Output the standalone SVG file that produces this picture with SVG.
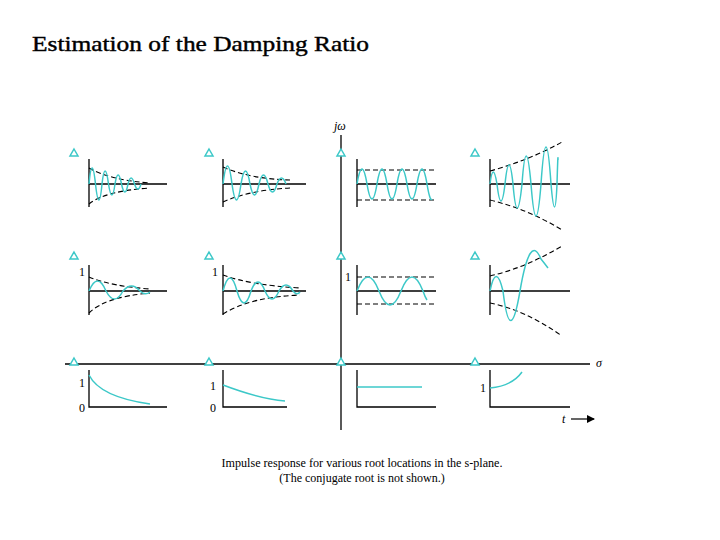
<svg xmlns="http://www.w3.org/2000/svg" width="720" height="540" viewBox="0 0 720 540">
<style>
.ax{stroke:#000;stroke-width:1.3;fill:none}
.sg{stroke:#3cc8c8;stroke-width:1.5;fill:none}
.dash{stroke:#000;stroke-width:1.1;fill:none;stroke-dasharray:5 3}
.tri{stroke:#3cc8c8;stroke-width:1.5;fill:#fff}
.t{font-family:"Liberation Serif",serif;fill:#000}
.lbl{font-family:"Liberation Serif",serif;font-size:12px;fill:#000}
</style>
<defs>
<path id="tr" d="M0 -4 L4 3 L-4 3 Z"/>
<marker id="ah" markerWidth="8" markerHeight="8" refX="7" refY="4" orient="auto" markerUnits="userSpaceOnUse"><path d="M0 0 L8 4 L0 8 Z" fill="#000"/></marker>
</defs>
<rect width="720" height="540" fill="#fff"/>
<text class="t" x="32" y="51" font-size="21" stroke="#000" stroke-width="0.4" textLength="337" lengthAdjust="spacingAndGlyphs">Estimation of the Damping Ratio</text>

<g id="splane">
<line class="ax" x1="341" y1="135" x2="341" y2="430"/>
<line class="ax" x1="65" y1="364" x2="590" y2="364"/>
<text class="lbl" x="334" y="130" font-style="italic">jω</text>
<text class="lbl" x="596" y="367" font-style="italic">σ</text>
</g>

<g id="roots">
<use href="#tr" class="tri" x="74" y="153"/><use href="#tr" class="tri" x="209" y="153"/><use href="#tr" class="tri" x="341" y="153"/><use href="#tr" class="tri" x="475" y="153"/>
<use href="#tr" class="tri" x="74" y="256"/><use href="#tr" class="tri" x="209" y="256"/><use href="#tr" class="tri" x="341" y="256"/><use href="#tr" class="tri" x="475" y="256"/>
<use href="#tr" class="tri" x="74" y="362"/><use href="#tr" class="tri" x="209" y="362"/><use href="#tr" class="tri" x="341" y="362"/><use href="#tr" class="tri" x="475" y="362"/>
</g>

<g id="p11">
<path class="ax" d="M89 159 V207 M89 184 H167"/>
<path class="dash" d="M89 168 Q110 180 150 183 M89 204 Q105 191 150 188"/>
<path class="sg" d="M89 184 Q92 152 95.5 184 Q99 216 102 184 Q105 158 108.5 184 Q112 206 115 184 Q118 166 121.5 184 Q125 200 128 184 Q131 172 134.5 184 Q138 194 141 184"/>
</g>
<g id="p12">
<path class="ax" d="M223 159 V207 M223 184 H306"/>
<path class="dash" d="M223 167 Q250 179 290 180 M223 202 Q250 190 290 188"/>
<path class="sg" d="M223 184 Q227.5 148 232 184 Q236.5 216 241 184 Q245.5 158 250 184 Q254.5 206 259 184 Q263.5 166 268 184 Q272.5 200 277 184 Q281.5 172 286 184"/>
</g>
<g id="p13">
<path class="ax" d="M357 159 V207 M357 184 H436"/>
<path class="dash" d="M357 170 H436 M357 200 H436"/>
<path class="sg" d="M357 184 Q362 154 367 184 Q372 214 377 184 Q382 154 387 184 Q392 214 397 184 Q402 154 407 184 Q412 214 417 184 Q422 154 427 184 Q430 202 432 199"/>
</g>
<g id="p14">
<path class="ax" d="M490 159 V207 M490 184 H570"/>
<path class="dash" d="M490 171 Q530 160 562 142 M490 200 Q530 210 562 230"/>
<path class="sg" d="M490 184 Q493 160 497 184 Q501 218 505 184 Q509 146 513 184 Q517 232 522 184 Q526 128 531 184 Q536 248 541 184 Q546 110 551 184 Q555 230 557 184 Q558 150 558 160"/>
</g>

<g id="p21">
<path class="ax" d="M89 265 V315 M89 291 H167"/>
<path class="dash" d="M89 277 Q110 286 150 289 M89 313 Q105 297 150 293"/>
<text class="lbl" x="79" y="276">1</text>
<path class="sg" d="M89 291 Q97.5 271 106 291 Q114.5 307 123 291 Q131.5 281 140 291 Q145 296 150 292"/>
</g>
<g id="p22">
<path class="ax" d="M223 265 V315 M223 291 H306"/>
<path class="dash" d="M223 275 Q250 285 300 288 M223 314 Q250 297 300 295"/>
<text class="lbl" x="212" y="276">1</text>
<path class="sg" d="M223 291 Q230 265 237 291 Q244 315 251 291 Q258 273 265 291 Q272 307 279 291 Q286 279 293 291 Q297 296 300 292"/>
</g>
<g id="p23">
<path class="ax" d="M357 265 V315 M357 291 H436"/>
<path class="dash" d="M357 277 H436 M357 304 H436"/>
<text class="lbl" x="345" y="281">1</text>
<path class="sg" d="M357 291 Q368 263 379 291 Q390 319 401 291 Q412 263 423 291 Q425 297 427 300"/>
</g>
<g id="p24">
<path class="ax" d="M490 265 V315 M490 291 H570"/>
<path class="dash" d="M490 276 Q525 268 562 246 M490 303 Q525 310 562 336"/>
<path class="sg" d="M490 291 Q496 262 503 291 Q510 350 520 291 Q530 232 541 259 Q545 264 548 268"/>
</g>

<g id="p31">
<path class="ax" d="M89 370 V407 H167"/>
<text class="lbl" x="79" y="387">1</text>
<text class="lbl" x="79" y="412">0</text>
<path class="sg" d="M89 375 Q100 397 150 404"/>
</g>
<g id="p32">
<path class="ax" d="M223 370 V407 H287"/>
<text class="lbl" x="210" y="390">1</text>
<text class="lbl" x="210" y="412">0</text>
<path class="sg" d="M223 385 Q260 399 285 401"/>
</g>
<g id="p33">
<path class="ax" d="M357 370 V407 H436"/>
<path class="sg" d="M357 387 H422"/>
</g>
<g id="p34">
<path class="ax" d="M490 370 V407 H570"/>
<text class="lbl" x="480" y="392">1</text>
<path class="sg" d="M490 388 Q512 386 522 372"/>
</g>

<g id="connectors">
<line x1="571" y1="419" x2="594" y2="419" stroke="#000" stroke-width="1.2" marker-end="url(#ah)"/>
</g>
<text class="lbl" x="562" y="423" font-style="italic">t</text>

<text class="lbl" x="362" y="467" text-anchor="middle" fill="#333" textLength="281" lengthAdjust="spacingAndGlyphs">Impulse response for various root locations in the s-plane.</text>
<text class="lbl" x="362" y="482" text-anchor="middle" fill="#333">(The conjugate root is not shown.)</text>
</svg>
